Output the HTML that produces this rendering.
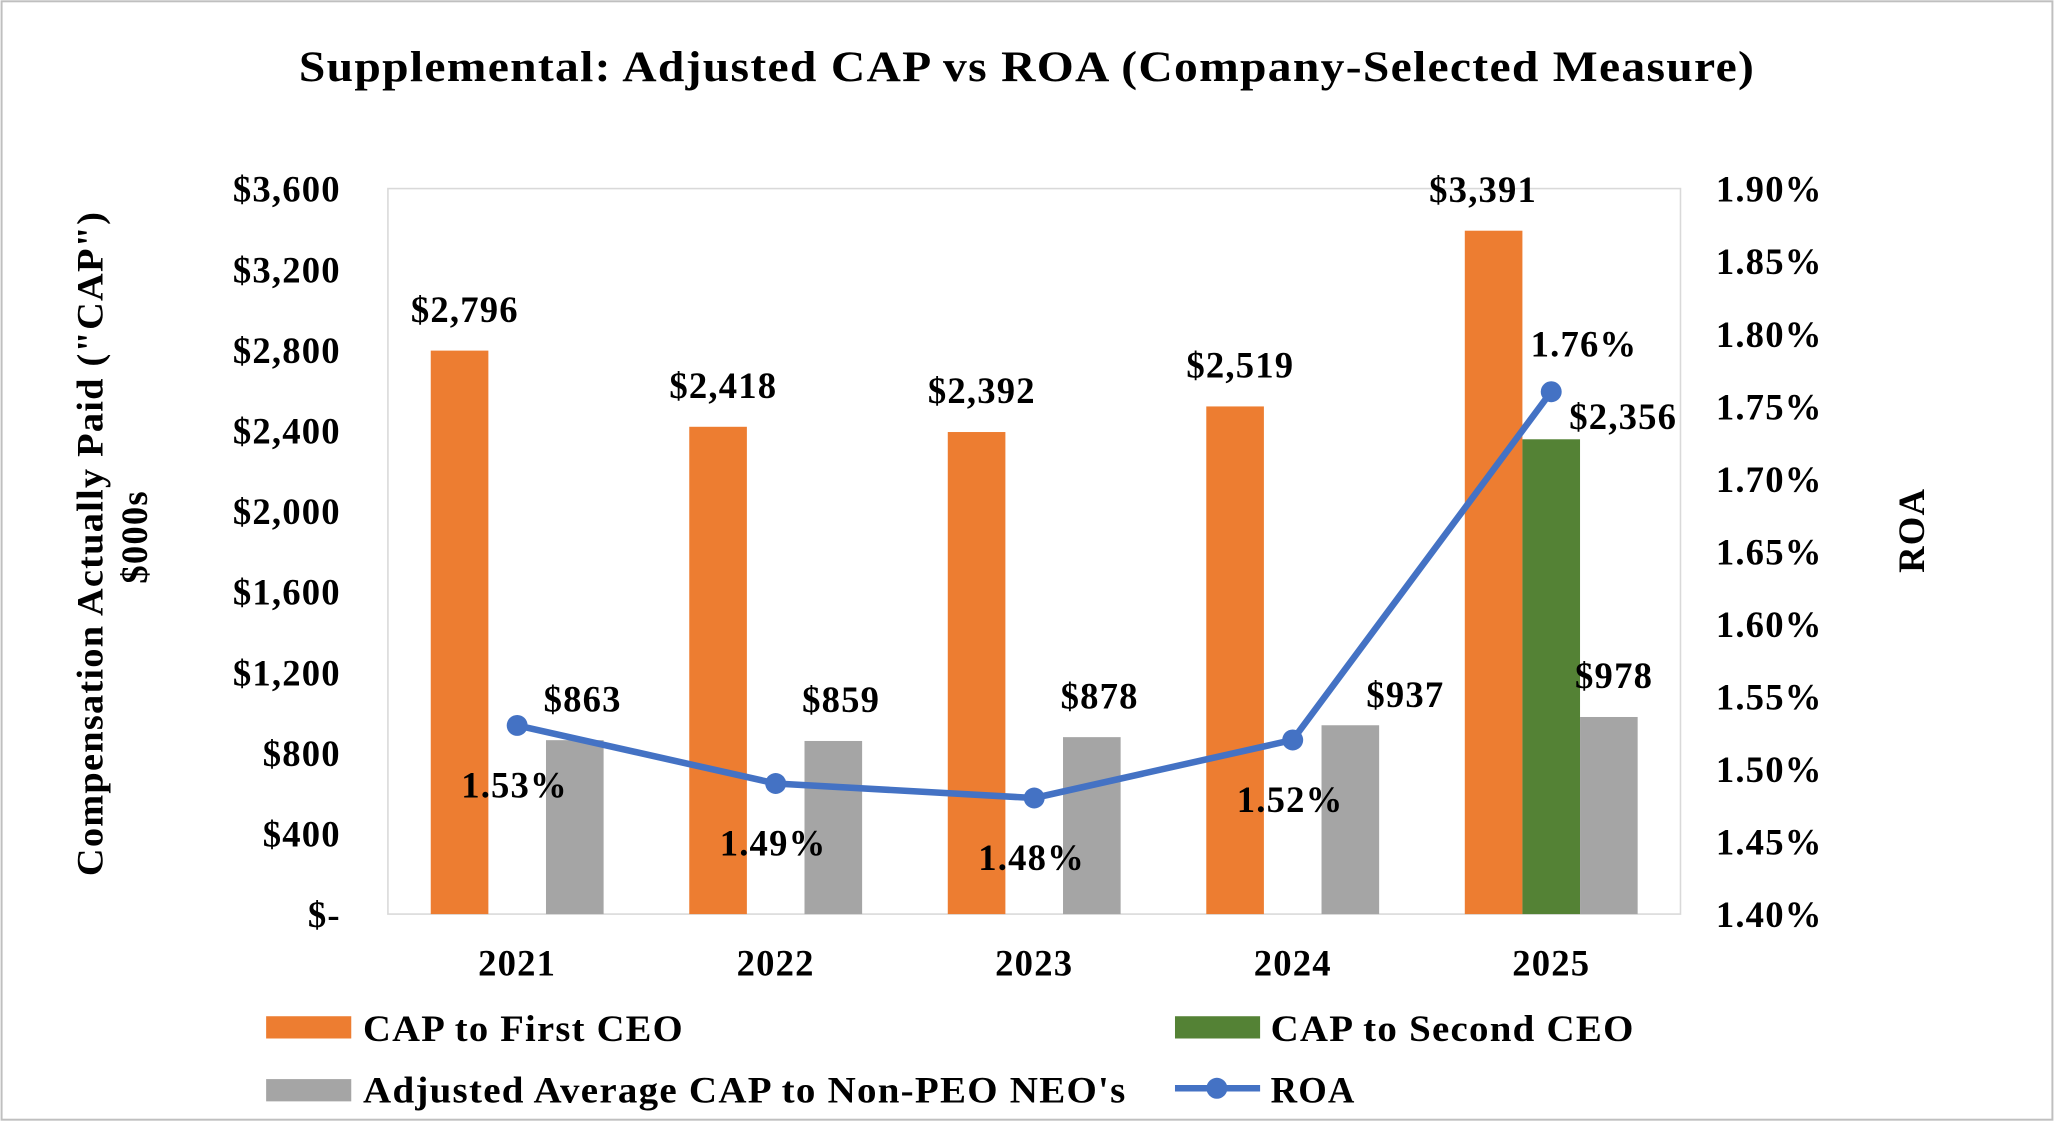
<!DOCTYPE html>
<html><head><meta charset="utf-8"><style>
html,body{margin:0;padding:0;background:#fff}
svg{display:block}
text{font-family:"Liberation Serif",serif;font-weight:bold;fill:#000;letter-spacing:0.9px}
</style></head><body>
<svg width="2054" height="1121" viewBox="0 0 1568 856">
<rect x="1" y="1" width="1566" height="854" fill="#fff" stroke="#bfbfbf" stroke-width="1.5"/>
<text x="228" y="62" font-size="33" textLength="1112" lengthAdjust="spacingAndGlyphs">Supplemental:  Adjusted CAP vs ROA (Company-Selected Measure)</text>
<rect x="296" y="144" width="987" height="554" fill="none" stroke="#d9d9d9" stroke-width="1.2"/>
<g id="g"></g>
<text transform="translate(78,415) rotate(-90)" font-size="28" text-anchor="middle" textLength="508" lengthAdjust="spacingAndGlyphs">Compensation Actually Paid ("CAP")</text>
<text transform="translate(112,410) rotate(-90)" font-size="28" text-anchor="middle">$000s</text>
<text transform="translate(1469,405) rotate(-90)" font-size="28" text-anchor="middle">ROA</text>
<rect x="203" y="776" width="65" height="17" fill="#ed7d31"/>
<text x="277" y="795" font-size="28" textLength="245" lengthAdjust="spacingAndGlyphs">CAP to First CEO</text>
<rect x="897" y="776" width="65" height="17" fill="#548235"/>
<text x="970" y="795" font-size="28" textLength="278" lengthAdjust="spacingAndGlyphs">CAP to Second CEO</text>
<rect x="203" y="824" width="65" height="17" fill="#a5a5a5"/>
<text x="277" y="842" font-size="28" textLength="583" lengthAdjust="spacingAndGlyphs">Adjusted Average CAP to Non-PEO NEO's</text>
<line x1="897" y1="831" x2="962" y2="831" stroke="#4472c4" stroke-width="5"/>
<circle cx="929" cy="831" r="8" fill="#4472c4"/>
<text x="970" y="842" font-size="28">ROA</text>
</svg>
<script>
const categories=["2021","2022","2023","2024","2025"];
const firstCeo=[2796,2418,2392,2519,3391];
const secondCeo=[null,null,null,null,2356];
const neo=[863,859,878,937,978];
const roa=[1.53,1.49,1.48,1.52,1.76];
const leftTicks=[0,400,800,1200,1600,2000,2400,2800,3200,3600];
const rightTicks=[1.40,1.45,1.50,1.55,1.60,1.65,1.70,1.75,1.80,1.85,1.90];
const NS="http://www.w3.org/2000/svg";
const g=document.getElementById('g');
const X0=296,W=987,Y0=698,Y1=144;
const yL=v=>Y0-(v/3600)*(Y0-Y1);
const yR=v=>Y0-((v-1.4)/0.5)*(Y0-Y1);
const xC=i=>X0+W/categories.length*(i+0.5);
const BW=44;
const FS=28;
function mk(t,a,txt){const e=document.createElementNS(NS,t);for(const k in a)e.setAttribute(k,a[k]);if(txt!==undefined)e.textContent=txt;g.appendChild(e);return e;}
const fmt=v=>"$"+v.toLocaleString("en-US");
leftTicks.forEach(v=>{const e=mk('text',{x:260,y:yL(v)+10,'font-size':FS,'text-anchor':'end'},v===0?"$-":fmt(v));

});
rightTicks.forEach(v=>{const e=mk('text',{x:1310,y:yR(v)+10,'font-size':FS},v.toFixed(2)+"%");

});
categories.forEach((c,i)=>{const e=mk('text',{x:xC(i),y:745,'font-size':FS,'text-anchor':'middle'},c);


const cx=xC(i);
const b=mk('rect',{x:cx-BW-BW/2,y:yL(firstCeo[i]),width:BW,height:Y0-yL(firstCeo[i]),fill:'#ed7d31'});


const lastI=i===categories.length-1;
const l=mk('text',{x:cx-BW-(lastI?8:-4),y:yL(firstCeo[i])-22,'font-size':FS,'text-anchor':'middle'},fmt(firstCeo[i]));


if(secondCeo[i]!=null){const s=mk('rect',{x:cx-BW/2,y:yL(secondCeo[i]),width:BW,height:Y0-yL(secondCeo[i]),fill:'#548235'});


const sl=mk('text',{x:cx+55,y:yL(secondCeo[i])-8,'font-size':FS,'text-anchor':'middle'},fmt(secondCeo[i]));

}
const n=mk('rect',{x:cx+BW-BW/2,y:yL(neo[i]),width:BW,height:Y0-yL(neo[i]),fill:'#a5a5a5'});


const off=(i===3)?42:(lastI?4:6);
const nl=mk('text',{x:cx+BW+off,y:yL(neo[i])-(i===3?14:22),'font-size':FS,'text-anchor':'middle'},fmt(neo[i]));


});
const pts=roa.map((v,i)=>xC(i)+","+yR(v)).join(" ");
const pl=mk('polyline',{points:pts,fill:'none',stroke:'#4472c4','stroke-width':5,'stroke-linejoin':'round'});


roa.forEach((v,i)=>{const p=mk('circle',{cx:xC(i),cy:yR(v),r:8,fill:'#4472c4'});


const last=i===roa.length-1;
const t=mk('text',{x:xC(i)+(last?25:-2),y:last?yR(v)-27:yR(v)+55,'font-size':FS,'text-anchor':'middle'},v.toFixed(2)+"%");

});
</script>
</body></html>
